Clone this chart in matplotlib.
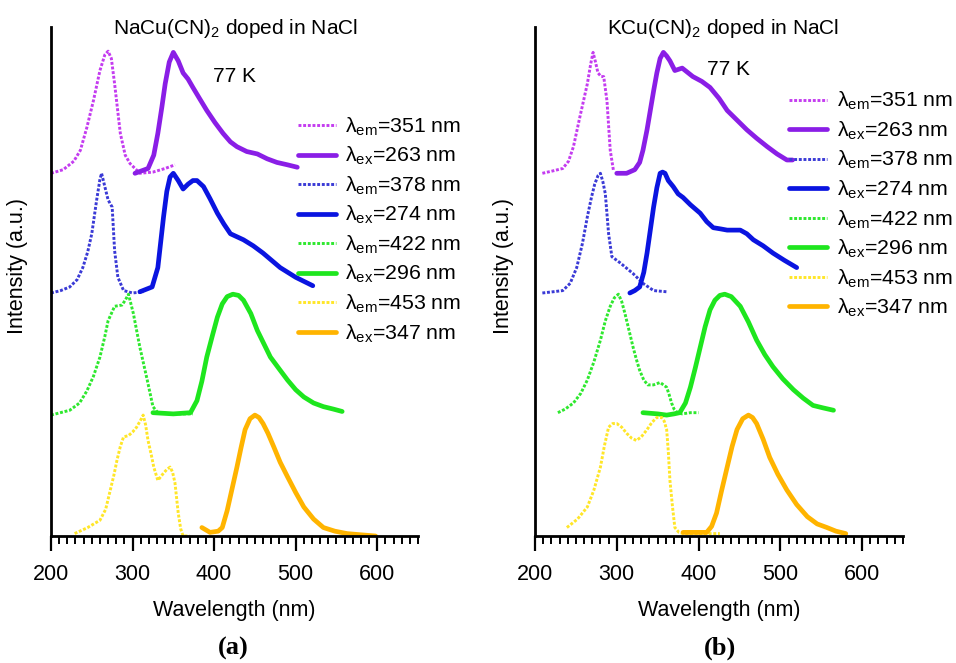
import matplotlib
matplotlib.use("Agg")
import matplotlib.pyplot as plt
from matplotlib.ticker import MultipleLocator

plt.rcParams['font.family'] = ['Liberation Sans', 'DejaVu Sans']
plt.rcParams['mathtext.fontset'] = 'custom'
plt.rcParams['mathtext.rm'] = 'Liberation Sans'
plt.rcParams['mathtext.it'] = 'Liberation Sans:italic'
plt.rcParams['mathtext.bf'] = 'Liberation Sans:bold'

# ---------------- data: panel (a) NaCu(CN)2 doped in NaCl ----------------
a_em351_x = [200, 215, 228, 236, 244, 252, 260, 266, 270, 274, 278, 285, 291, 297, 309, 325, 340, 352]
a_em351_y = [0.0, 0.03, 0.1, 0.19, 0.38, 0.6, 0.85, 0.98, 1.01, 0.95, 0.74, 0.33, 0.15, 0.08, 0.0, 0.01, 0.04, 0.07]
a_ex263_x = [303, 319, 326, 331, 336, 340, 345, 350, 356, 362, 368, 374, 382, 391, 401, 411, 420, 428, 440, 453, 465, 477, 490, 502]
a_ex263_y = [0.0, 0.04, 0.15, 0.33, 0.55, 0.74, 0.92, 1.0, 0.93, 0.83, 0.78, 0.71, 0.62, 0.52, 0.42, 0.33, 0.26, 0.22, 0.18, 0.16, 0.12, 0.09, 0.07, 0.05]
a_em378_x = [200, 212, 223, 232, 239, 245, 250, 256, 260, 262, 266, 270, 275, 278, 282, 289, 300, 313]
a_em378_y = [0.01, 0.03, 0.06, 0.12, 0.22, 0.35, 0.5, 0.78, 0.95, 1.0, 0.89, 0.78, 0.72, 0.36, 0.14, 0.03, 0.01, 0.02]
a_ex274_x = [309, 324, 331, 338, 342, 346, 350, 356, 362, 368, 374, 379, 387, 395, 404, 412, 420, 436, 448, 460, 481, 500, 521]
a_ex274_y = [0.02, 0.06, 0.22, 0.64, 0.85, 0.97, 1.0, 0.94, 0.87, 0.91, 0.94, 0.94, 0.89, 0.79, 0.67, 0.58, 0.5, 0.45, 0.4, 0.34, 0.22, 0.14, 0.07]
a_em422_x = [200, 223, 235, 244, 252, 260, 266, 270, 278, 287, 291, 295, 301, 309, 318, 325, 331, 350, 374]
a_em422_y = [0.0, 0.04, 0.1, 0.2, 0.32, 0.48, 0.65, 0.78, 0.9, 0.91, 0.95, 1.0, 0.84, 0.56, 0.29, 0.07, 0.02, 0.01, 0.01]
a_ex296_x = [325, 350, 371, 379, 385, 391, 398, 404, 410, 416, 423, 430, 436, 445, 453, 461, 469, 480, 490, 500, 510, 522, 534, 546, 557]
a_ex296_y = [0.02, 0.01, 0.02, 0.12, 0.28, 0.48, 0.66, 0.81, 0.92, 0.98, 1.0, 0.99, 0.95, 0.84, 0.7, 0.59, 0.48, 0.38, 0.29, 0.21, 0.15, 0.1, 0.07, 0.05, 0.03]
a_em453_x = [229, 245, 260, 267, 272, 277, 281, 285, 289, 295, 300, 305, 310, 313, 316, 319, 323, 326, 331, 338, 342, 346, 349, 352, 356, 359, 362, 370]
a_em453_y = [0.02, 0.07, 0.13, 0.22, 0.36, 0.5, 0.63, 0.74, 0.82, 0.83, 0.86, 0.9, 0.96, 1.0, 0.92, 0.79, 0.67, 0.57, 0.46, 0.52, 0.55, 0.57, 0.53, 0.44, 0.19, 0.06, 0.0, 0.0]
a_ex347_x = [385, 395, 405, 410, 416, 422, 428, 433, 438, 444, 450, 455, 460, 466, 473, 481, 490, 500, 510, 522, 534, 548, 563, 580, 598]
a_ex347_y = [0.07, 0.03, 0.04, 0.07, 0.21, 0.39, 0.57, 0.73, 0.88, 0.97, 1.0, 0.98, 0.93, 0.85, 0.74, 0.61, 0.49, 0.36, 0.24, 0.14, 0.07, 0.04, 0.02, 0.01, 0.0]

# ---------------- data: panel (b) KCu(CN)2 doped in NaCl ----------------
b_em351_x = [209, 222, 234, 241, 247, 255, 264, 268, 271, 274, 277, 281, 284, 288, 292, 296]
b_em351_y = [0.0, 0.02, 0.04, 0.1, 0.22, 0.47, 0.74, 0.9, 1.0, 0.92, 0.83, 0.8, 0.8, 0.6, 0.19, 0.02]
b_ex263_x = [300, 312, 322, 328, 332, 337, 341, 345, 349, 353, 357, 361, 365, 371, 380, 393, 404, 414, 425, 435, 447, 459, 471, 484, 496, 508, 515]
b_ex263_y = [0.0, 0.0, 0.03, 0.09, 0.19, 0.36, 0.52, 0.68, 0.83, 0.95, 1.0, 0.97, 0.93, 0.85, 0.87, 0.8, 0.76, 0.71, 0.62, 0.52, 0.44, 0.36, 0.29, 0.22, 0.16, 0.11, 0.11]
b_em378_x = [209, 222, 234, 243, 251, 258, 264, 269, 273, 277, 280, 283, 286, 290, 294, 304, 320, 332, 345, 361]
b_em378_y = [0.01, 0.02, 0.03, 0.09, 0.22, 0.42, 0.64, 0.8, 0.91, 0.98, 1.0, 0.93, 0.83, 0.5, 0.31, 0.26, 0.17, 0.09, 0.03, 0.02]
b_ex274_x = [316, 322, 328, 333, 337, 341, 345, 349, 353, 356, 359, 363, 369, 375, 381, 390, 402, 410, 418, 427, 435, 443, 451, 459, 467, 479, 491, 505, 520]
b_ex274_y = [0.01, 0.03, 0.06, 0.18, 0.34, 0.53, 0.72, 0.88, 1.0, 1.01, 1.0, 0.94, 0.89, 0.83, 0.8, 0.74, 0.67, 0.6, 0.55, 0.54, 0.53, 0.53, 0.53, 0.5, 0.45, 0.4, 0.34, 0.28, 0.22]
b_em422_x = [228, 237, 247, 256, 264, 272, 280, 286, 292, 297, 302, 306, 310, 315, 320, 324, 328, 333, 338, 345, 353, 361, 364, 367, 370, 374, 380, 390, 400]
b_em422_y = [0.02, 0.05, 0.1, 0.18, 0.29, 0.44, 0.62, 0.78, 0.9, 0.97, 1.0, 0.94, 0.84, 0.7, 0.56, 0.46, 0.37, 0.29, 0.25, 0.25, 0.27, 0.23, 0.17, 0.1, 0.05, 0.02, 0.01, 0.02, 0.02]
b_ex296_x = [332, 350, 361, 370, 377, 384, 390, 396, 402, 408, 414, 420, 426, 432, 440, 451, 461, 471, 481, 491, 503, 516, 528, 540, 552, 565]
b_ex296_y = [0.02, 0.01, 0.0, 0.01, 0.02, 0.1, 0.23, 0.39, 0.56, 0.73, 0.87, 0.95, 0.99, 1.0, 0.98, 0.9, 0.77, 0.62, 0.5, 0.4, 0.3, 0.21, 0.14, 0.08, 0.06, 0.04]
b_em453_x = [239, 252, 264, 272, 280, 285, 290, 295, 300, 306, 312, 318, 324, 330, 337, 343, 349, 355, 358, 361, 363, 365, 368, 371, 376, 381, 400, 426]
b_em453_y = [0.07, 0.14, 0.24, 0.38, 0.57, 0.75, 0.9, 0.93, 0.93, 0.9, 0.85, 0.81, 0.79, 0.82, 0.88, 0.94, 0.98, 0.98, 0.95, 0.88, 0.7, 0.46, 0.25, 0.07, 0.03, 0.02, 0.02, 0.02]
b_ex347_x = [381, 395, 410, 416, 422, 428, 435, 441, 447, 454, 461, 466, 471, 479, 487, 497, 508, 520, 533, 545, 557, 568, 580]
b_ex347_y = [0.03, 0.03, 0.03, 0.08, 0.19, 0.37, 0.57, 0.74, 0.88, 0.97, 1.0, 0.98, 0.93, 0.8, 0.65, 0.51, 0.38, 0.26, 0.16, 0.1, 0.07, 0.04, 0.02]

offsets = [3, 3, 2, 2, 1, 1, 0, 0]
labels = [r'λ$_{\rm em}$=351 nm', r'λ$_{\rm ex}$=263 nm',
          r'λ$_{\rm em}$=378 nm', r'λ$_{\rm ex}$=274 nm',
          r'λ$_{\rm em}$=422 nm', r'λ$_{\rm ex}$=296 nm',
          r'λ$_{\rm em}$=453 nm', r'λ$_{\rm ex}$=347 nm']
colors = ['#c43cf0', '#8a1ee6', '#3a3ad6', '#0a14e0', '#2ee82e', '#1ee61e', '#ffe628', '#ffb400']
dotted = [True, False, True, False, True, False, True, False]

panel_a = [(a_em351_x, a_em351_y), (a_ex263_x, a_ex263_y), (a_em378_x, a_em378_y), (a_ex274_x, a_ex274_y),
           (a_em422_x, a_em422_y), (a_ex296_x, a_ex296_y), (a_em453_x, a_em453_y), (a_ex347_x, a_ex347_y)]
panel_b = [(b_em351_x, b_em351_y), (b_ex263_x, b_ex263_y), (b_em378_x, b_em378_y), (b_ex274_x, b_ex274_y),
           (b_em422_x, b_em422_y), (b_ex296_x, b_ex296_y), (b_em453_x, b_em453_y), (b_ex347_x, b_ex347_y)]

titles = ['NaCu(CN)$_2$ doped in NaCl', 'KCu(CN)$_2$ doped in NaCl']
panel_tags = ['(a)', '(b)']

fig = plt.figure(figsize=(9.56, 6.63), dpi=100)
W, H = 956, 663
axes_px = [(51, 418), (535, 903)]
top_px, bot_px = 27, 536
title_xy = [(426, 4.195), (430, 4.195)]
temp_xy = [(425, 3.80), (437, 3.86)]
leg_anchor = [(0.672, 0.826), (0.690, 0.876)]
ylab_x = [-0.062, -0.056]
tag_x = [233, 720]

for i, (data, (l, r)) in enumerate(zip([panel_a, panel_b], axes_px)):
    ax = fig.add_axes([l / W, 1 - bot_px / H, (r - l) / W, (bot_px - top_px) / H])
    handles = []
    for (x, y), off, c, dt, lab in zip(data, offsets, colors, dotted, labels):
        yy = [v + off for v in y]
        if dt:
            h, = ax.plot(x, yy, color=c, lw=2.1, linestyle=(0, (1, 0.6)), label=lab)
        else:
            h, = ax.plot(x, yy, color=c, lw=3.4, solid_capstyle='round', solid_joinstyle='round', label=lab)
        handles.append(h)
    ax.set_xlim(200, 650)
    ax.set_ylim(0, 4.21)
    ax.spines['top'].set_visible(False)
    ax.spines['right'].set_visible(False)
    ax.spines['left'].set_linewidth(2.0)
    ax.spines['bottom'].set_linewidth(2.0)
    ax.set_yticks([])
    ax.set_xticks([200, 300, 400, 500, 600])
    ax.xaxis.set_minor_locator(MultipleLocator(10))
    ax.tick_params(axis='x', which='major', direction='out', length=11, width=1.6, pad=9, labelsize=15.5)
    ax.tick_params(axis='x', which='minor', direction='out', length=6, width=1.4)
    ax.set_xlabel('Wavelength (nm)', fontsize=15.5, labelpad=11)
    ax.set_ylabel('Intensity (a.u.)', fontsize=15.5)
    ax.yaxis.set_label_coords(ylab_x[i], 0.53)
    ax.text(title_xy[i][0], title_xy[i][1], titles[i], fontsize=15, ha='center', va='center', clip_on=False)
    ax.text(temp_xy[i][0], temp_xy[i][1], '77 K', fontsize=15, ha='center', va='center')
    ax.legend(handles=handles, loc='upper left', bbox_to_anchor=leg_anchor[i], frameon=False,
              fontsize=15.3, handlelength=1.8, handletextpad=0.45, labelspacing=0.34, borderpad=0,
              borderaxespad=0)
    fig.text(tag_x[i] / W, 1 - 648 / H, panel_tags[i], fontsize=19, fontweight='bold',
             family='Liberation Serif', ha='center', va='center')

fig.savefig('out.png', dpi=100)
